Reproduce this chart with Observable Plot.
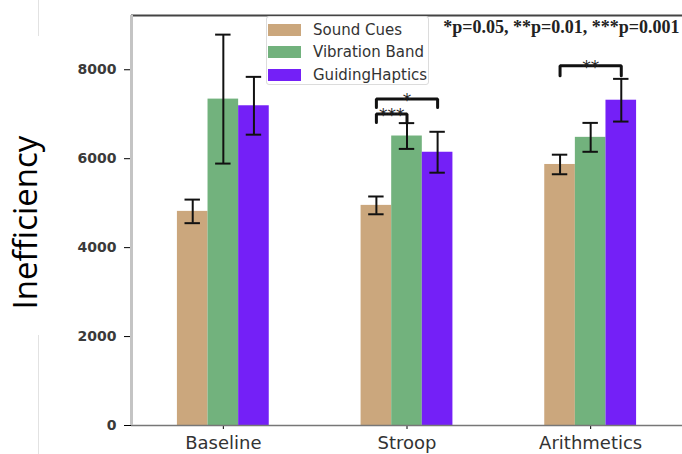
<!DOCTYPE html>
<html>
<head>
<meta charset="utf-8">
<script src="https://cdn.jsdelivr.net/npm/d3@7"></script>
<script src="https://cdn.jsdelivr.net/npm/@observablehq/plot@0.6"></script>
<style>
  html, body { margin: 0; padding: 0; background: #fff; }
  #wrap { position: relative; width: 682px; height: 454px; overflow: hidden; background: #fff; }
  #wrap svg { position: absolute; left: 0; top: 0; }
  g[aria-label^="x-axis"] text { font-family: "DejaVu Sans", sans-serif; font-size: 18px; fill: #333; }
  g[aria-label^="y-axis"] text { font-family: "DejaVu Sans", sans-serif; font-size: 14px; font-weight: bold; fill: #3a3a3a; }
  .deco { position: absolute; width: 1px; background: #e2e2e2; }
  #legend { position: absolute; left: 266px; top: 16px; width: 163px; height: 69px;
            border: 1px solid #dcdcdc; border-radius: 3px; background: rgba(255,255,255,0.85); box-sizing: border-box; }
  #legend .row { position: absolute; left: 1px; height: 12px; }
  #legend .sw { position: absolute; left: 0; top: 0; width: 33px; height: 12px; }
  #legend .lb { position: absolute; left: 45px; top: -4px; white-space: nowrap;
                font-family: "DejaVu Sans", sans-serif; font-size: 15px; line-height: 20px; color: #333; }
</style>
</head>
<body>
<div id="wrap"></div>
<script>
// ---- data ----
const categories = ["Baseline", "Stroop", "Arithmetics"];
const series = ["Sound Cues", "Vibration Band", "GuidingHaptics"];
const soundCues = [4815, 4950, 5870];
const soundCuesErr = [265, 200, 220];
const vibrationBand = [7340, 6510, 6480];
const vibrationBandErr = [1450, 290, 325];
const guidingHaptics = [7190, 6145, 7315];
const guidingHapticsErr = [650, 460, 480];
const yTicks = [0, 2000, 4000, 6000, 8000];
const colors = ["#CBA77D", "#72B27D", "#7420F7"];
// significance brackets
const sigGroup = ["Stroop", "Stroop", "Arithmetics"];
const sigFrom = ["Sound Cues", "Sound Cues", "Sound Cues"];
const sigTo = ["GuidingHaptics", "Vibration Band", "GuidingHaptics"];
const sigLevel = [7343, 7004, 8090];
const sigLeg = [7152, 6815, 7865];
const sigLabel = ["*", "***", "**"];
const sigNote = "*p=0.05, **p=0.01, ***p=0.001";
const yLabel = "Inefficiency";

// ---- build tables ----
const means = [soundCues, vibrationBand, guidingHaptics];
const errs = [soundCuesErr, vibrationBandErr, guidingHapticsErr];
const barW = 1 / 6;       // bar width in category units (matplotlib-style)
const capHalf = 0.042;    // error-bar cap half width
const posOf = (cat, ser) => categories.indexOf(cat) + (series.indexOf(ser) - 1) * barW;

const rows = [];
categories.forEach((c, i) => series.forEach((s, k) => {
  rows.push({category: c, series: s, value: means[k][i], err: errs[k][i], pos: posOf(c, s)});
}));

const brackets = sigGroup.map((g, j) => ({
  id: j, x1: posOf(g, sigFrom[j]), x2: posOf(g, sigTo[j]),
  level: sigLevel[j], leg: sigLeg[j], label: sigLabel[j]
}));
const bracketPts = brackets.flatMap(b => [
  {id: b.id, x: b.x1, y: b.leg}, {id: b.id, x: b.x1, y: b.level},
  {id: b.id, x: b.x2, y: b.level}, {id: b.id, x: b.x2, y: b.leg}
]);

const yMax = 9220;

const chart = Plot.plot({
  width: 682,
  height: 454,
  marginLeft: 131,
  marginRight: 0,
  marginTop: 15,
  marginBottom: 29,
  style: {background: "transparent", overflow: "visible"},
  x: {type: "linear", domain: [-0.5, 2.5], ticks: [0, 1, 2], tickFormat: i => categories[i],
      tickSize: 4, tickPadding: 7, label: null},
  y: {domain: [0, yMax], ticks: yTicks, tickFormat: d => String(d), tickSize: 7, tickPadding: 8, label: null},
  color: {domain: series, range: colors},
  marks: [
    Plot.rectY(rows, {x1: d => d.pos - barW / 2, x2: d => d.pos + barW / 2, y: "value", fill: "series"}),
    Plot.ruleX(rows, {x: "pos", y1: d => d.value - d.err, y2: d => d.value + d.err, stroke: "#111", strokeWidth: 2}),
    Plot.ruleY(rows, {x1: d => d.pos - capHalf, x2: d => d.pos + capHalf, y: d => d.value + d.err, stroke: "#111", strokeWidth: 2}),
    Plot.ruleY(rows, {x1: d => d.pos - capHalf, x2: d => d.pos + capHalf, y: d => d.value - d.err, stroke: "#111", strokeWidth: 2}),
    Plot.line(bracketPts, {x: "x", y: "y", z: "id", stroke: "#111", strokeWidth: 3, strokeLinejoin: "miter", curve: "linear"}),
    Plot.text(brackets, {x: d => (d.x1 + d.x2) / 2, y: "level", text: "label", lineAnchor: "bottom", dy: 7,
      fontSize: 17, fontFamily: "DejaVu Sans", fill: "#222"}),
    Plot.ruleY([0], {stroke: "#777", strokeWidth: 1.5}),
    Plot.ruleY([yMax], {stroke: "#444", strokeWidth: 2}),
    Plot.ruleX([-0.5], {stroke: "#c4c4c4", strokeWidth: 3}),
    Plot.text([sigNote], {frameAnchor: "top-right", textAnchor: "end", dx: -3, dy: 12, lineAnchor: "middle",
      fontFamily: "Liberation Serif", fontWeight: "bold", fontSize: 18, fill: "#222"}),
    Plot.text([yLabel], {frameAnchor: "left", textAnchor: "middle", lineAnchor: "middle", rotate: -90, dx: -105, dy: 2,
      fontFamily: "Open Sans", fontSize: 33, fill: "#000"})
  ]
});

const wrap = document.getElementById("wrap");
wrap.appendChild(chart);

// faint slide decorations
[[0, 36], [335, 119]].forEach(([t, h]) => {
  const d = document.createElement("div");
  d.className = "deco";
  d.style.left = "38px"; d.style.top = t + "px"; d.style.height = h + "px";
  wrap.appendChild(d);
});

// legend inside the axes
const legend = document.createElement("div");
legend.id = "legend";
series.forEach((s, k) => {
  const row = document.createElement("div");
  row.className = "row";
  row.style.top = (7 + k * 22.3) + "px";
  const sw = document.createElement("div");
  sw.className = "sw";
  sw.style.background = colors[k];
  const lb = document.createElement("div");
  lb.className = "lb";
  lb.textContent = s;
  row.appendChild(sw); row.appendChild(lb);
  legend.appendChild(row);
});
wrap.appendChild(legend);
</script>
</body>
</html>
